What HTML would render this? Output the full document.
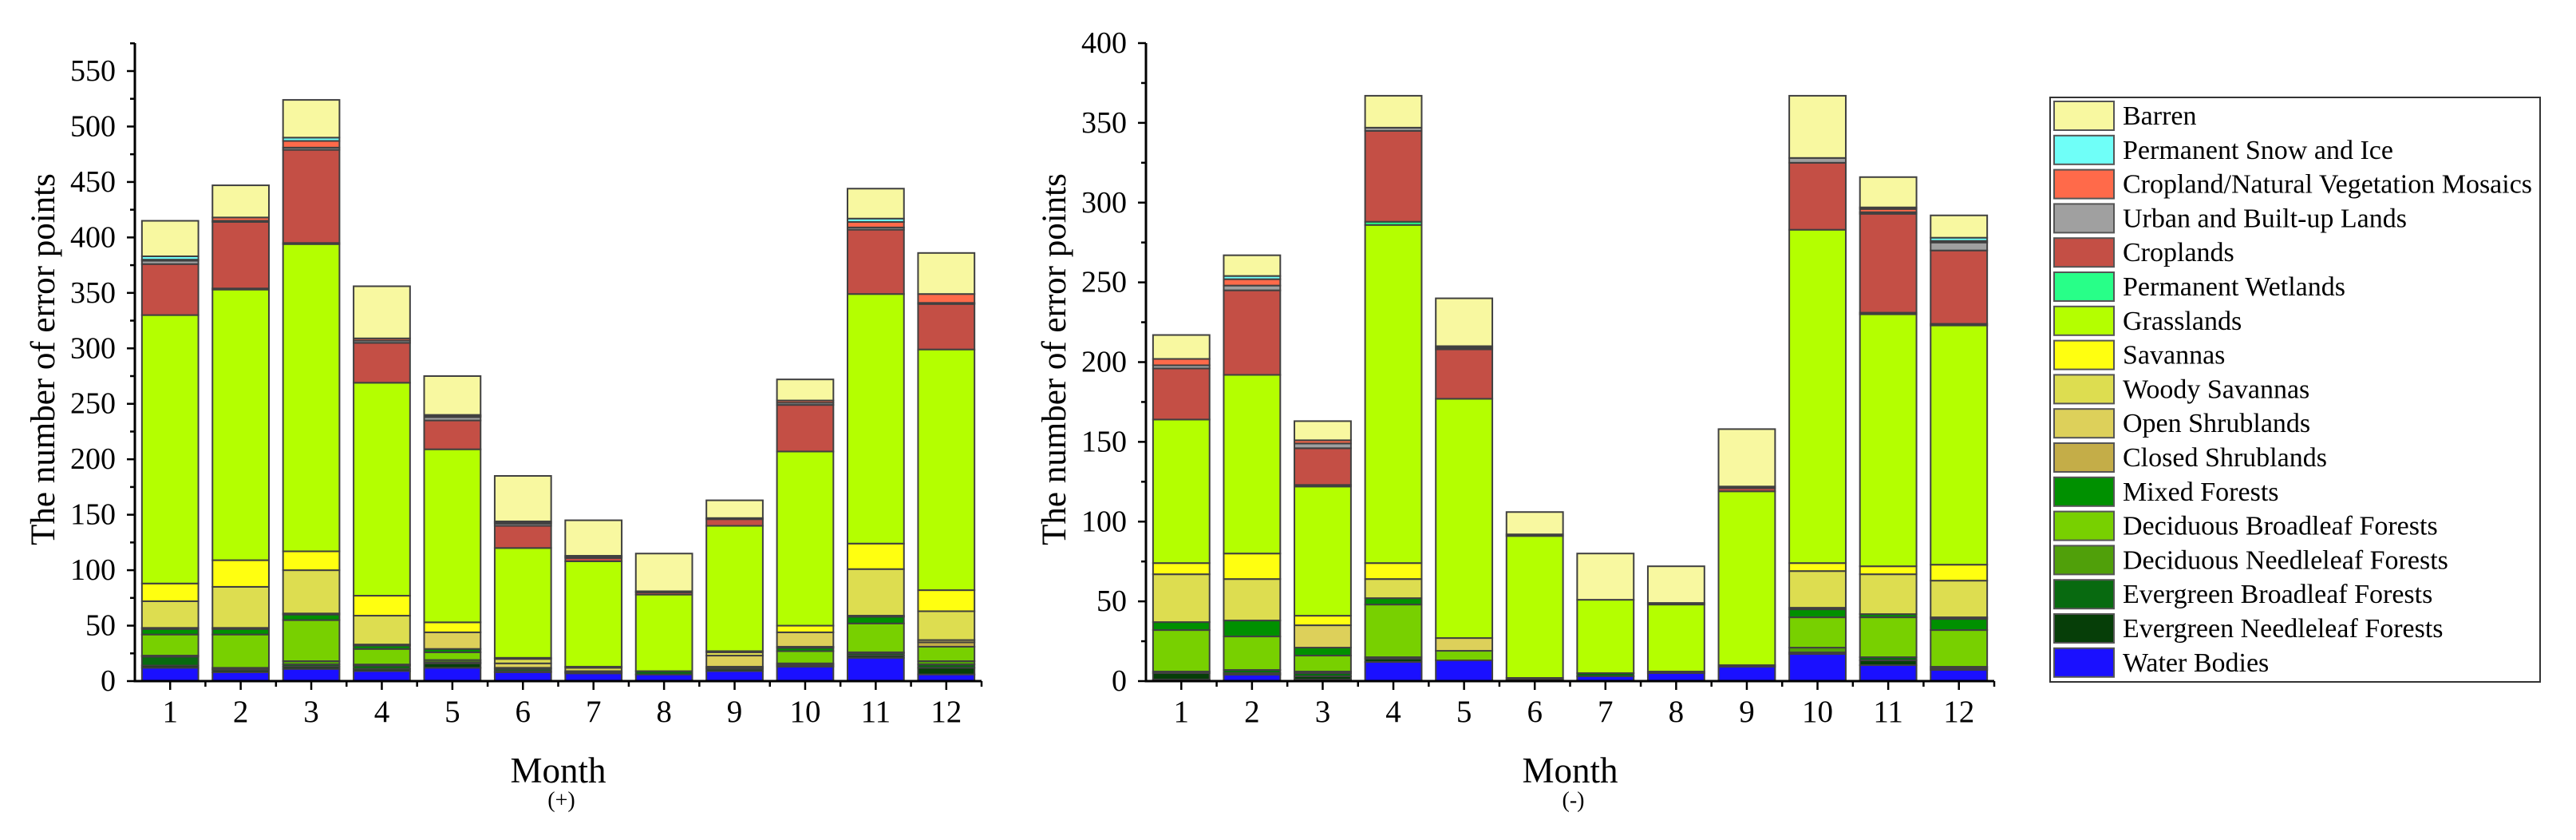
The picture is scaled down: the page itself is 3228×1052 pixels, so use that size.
<!DOCTYPE html>
<html><head><meta charset="utf-8"><style>
html,body{margin:0;padding:0;background:#fff}
svg{display:block}
svg text{font-family:'Liberation Serif','Times New Roman',Times,serif;fill:#000}
</style></head><body>
<svg id="chart" width="3228" height="1052" viewBox="0 0 3228 1052" xmlns="http://www.w3.org/2000/svg" font-family="'Liberation Serif', 'Times New Roman', serif"></svg>
<script>
const months = ["1","2","3","4","5","6","7","8","9","10","11","12"];
const classNames = ["Water Bodies","Evergreen Needleleaf Forests","Evergreen Broadleaf Forests","Deciduous Needleleaf Forests","Deciduous Broadleaf Forests","Mixed Forests","Closed Shrublands","Open Shrublands","Woody Savannas","Savannas","Grasslands","Permanent Wetlands","Croplands","Urban and Built-up Lands","Cropland/Natural Vegetation Mosaics","Permanent Snow and Ice","Barren"];
const classColors = ["#1a10ff","#063e08","#086a10","#50a00a","#78d000","#009000","#c4ad48","#ddd05a","#dddd50","#ffff10","#b4ff00","#28ff88","#c44f45","#a0a0a0","#ff6a4a","#6ffff8","#f8f8a0"];
// positive errors: rows = month, cols = class order above
const plusValues = [
 [12,2,8,1,19,5,1,0,24,16,242,0,46,3,1,3,32],
 [8,2,1,1,30,5,1,0,37,24,244,1,60,1,3,0,29],
 [11,2,2,3,37,5,1,0,39,17,277,1,84,2,6,3,34],
 [9,2,3,1,14,3,1,0,26,18,192,0,36,2,2,0,47],
 [12,4,1,2,7,3,0,15,0,9,156,0,26,3,1,1,35],
 [8,1,2,0,1,0,0,4,4,1,99,0,20,2,1,1,41],
 [7,1,1,0,0,0,0,0,3,1,95,0,3,1,1,0,32],
 [6,0,3,0,0,0,0,0,0,0,69,0,2,1,0,0,34],
 [9,2,1,1,0,0,0,10,3,1,113,0,6,1,0,0,16],
 [13,1,1,1,11,3,1,13,0,6,157,0,42,2,2,0,19],
 [21,2,2,1,26,6,1,0,42,23,225,0,58,2,5,3,27],
 [6,6,3,3,13,0,4,2,26,19,217,0,41,1,8,0,37]
];
const minusValues = [
 [1,4,1,0,26,5,0,0,30,7,90,0,32,2,4,0,15],
 [4,1,2,0,21,10,0,0,26,16,112,0,53,3,4,2,13],
 [1,2,2,1,10,5,0,14,0,6,81,1,23,3,2,0,12],
 [12,2,1,0,33,4,0,0,12,10,212,2,57,2,0,0,20],
 [13,0,0,0,6,0,0,8,0,0,150,0,31,1,0,1,30],
 [1,0,0,1,0,0,0,0,0,0,89,0,1,0,0,0,14],
 [3,0,2,0,0,0,0,0,0,0,46,0,0,0,0,0,29],
 [5,0,1,0,0,0,0,0,0,0,42,0,1,0,0,0,23],
 [9,0,0,0,0,0,0,1,0,0,109,0,2,1,0,0,36],
 [17,0,1,3,19,5,1,0,23,5,209,0,42,3,0,0,39],
 [10,3,2,0,25,2,0,0,25,5,158,1,62,1,2,1,19],
 [7,1,1,0,23,7,1,0,23,10,150,1,46,5,1,2,14]
];
const plusTicks = [0,50,100,150,200,250,300,350,400,450,500,550];
const minusTicks = [0,50,100,150,200,250,300,350,400];

const svg = document.getElementById('chart');
const NS = "http://www.w3.org/2000/svg";
const FF = "'Liberation Serif', 'Times New Roman', serif";
function mk(tag, attrs, parent){
  const e = document.createElementNS(NS, tag);
  for (const k in attrs) e.setAttribute(k, attrs[k]);
  if (tag === 'text') e.setAttribute('font-family', FF);
  (parent||svg).appendChild(e);
  return e;
}

function drawChart(cfg){
  const g = mk('g', {});
  
  
  const band = (cfg.x1 - cfg.x0) / months.length;
  const xScale = i => cfg.x0 + band * (i + 0.5);
  const yScale = v => cfg.yBase - (v / cfg.yMax) * (cfg.yBase - cfg.yTop);
  const barW = band * 0.8;
  cfg.values.forEach((row, i) => {
    let cum = 0;
    row.forEach((v, c) => {
      if (v <= 0) return;
      const y1 = yScale(cum), y2 = yScale(cum + v);
      cum += v;
      const r = mk('rect', {x: xScale(i) - barW/2, y: y2, width: barW, height: y1 - y2, fill: classColors[c], stroke: '#404040', 'stroke-width': 2}, g);
      
      
    });
  });
  const ax = mk('g', {stroke: '#000', 'stroke-width': 3}, g);
  
  
  mk('line', {x1: cfg.x0, y1: cfg.axisTop, x2: cfg.x0, y2: cfg.yBase + 1.5}, ax);
  mk('line', {x1: cfg.x0 - 1.5, y1: cfg.yBase, x2: cfg.x1, y2: cfg.yBase}, ax);
  for (let t = 0; t <= cfg.yMax + 0.1; t += cfg.minor) {
    const isMaj = cfg.ticks.indexOf(t) >= 0;
    const y = yScale(t);
    mk('line', {x1: cfg.x0 - (isMaj ? 10 : 6), y1: y, x2: cfg.x0, y2: y, 'stroke-width': 2.5}, ax);
  }
  {
    const y = yScale(cfg.yMax + cfg.minor);
    if (y > cfg.axisTop) mk('line', {x1: cfg.x0 - 6, y1: y, x2: cfg.x0, y2: y, 'stroke-width': 2.5}, ax);
  }
  cfg.ticks.forEach(t => {
    const tx = mk('text', {x: cfg.x0 - 24, y: yScale(t) + 12, 'text-anchor': 'end', 'font-size': 38}, g);
    tx.textContent = t;
    
    
  });
  months.forEach((m, i) => {
    mk('line', {x1: xScale(i), y1: cfg.yBase, x2: xScale(i), y2: cfg.yBase + 11, 'stroke-width': 2.5}, ax);
    mk('line', {x1: cfg.x0 + band*(i+1), y1: cfg.yBase, x2: cfg.x0 + band*(i+1), y2: cfg.yBase + 7, 'stroke-width': 2.5}, ax);
    const tx = mk('text', {x: xScale(i), y: cfg.yBase + 51, 'text-anchor': 'middle', 'font-size': 39}, g);
    tx.textContent = m;
    
    
  });
  const cx = (cfg.x0 + cfg.x1) / 2;
  const xt = mk('text', {x: cx, y: 980, 'text-anchor': 'middle', 'font-size': 45}, g);
  xt.textContent = 'Month';
  
  
  const sub = mk('text', {x: cx + 4, y: 1011, 'text-anchor': 'middle', 'font-size': 28}, g);
  sub.textContent = cfg.sub;
  
  
  const yt = mk('text', {x: 0, y: 0, 'text-anchor': 'middle', 'font-size': 43, transform: 'translate(' + cfg.titleX + ',450) rotate(-90)'}, g);
  yt.textContent = 'The number of error points';
  
  
}

drawChart({name:'positive-error-chart', values: plusValues, ticks: plusTicks, yMax: 550, minor: 25, x0: 169, x1: 1230, yBase: 853, yTop: 89, axisTop: 54, sub: '(+)', titleX: 68});
drawChart({name:'negative-error-chart', values: minusValues, ticks: minusTicks, yMax: 400, minor: 25, x0: 1436, x1: 2499, yBase: 853, yTop: 54, axisTop: 54, sub: '(-)', titleX: 1335});

const lg = mk('g', {});


mk('rect', {x: 2569, y: 122, width: 614, height: 732, fill: '#fff', stroke: '#333', 'stroke-width': 2}, lg);
for (let k = 0; k < classNames.length; k++) {
  const c = classNames.length - 1 - k;
  const y = 127 + k * 42.8;
  const sw = mk('rect', {x: 2574, y: y, width: 75, height: 36, fill: classColors[c], stroke: '#555', 'stroke-width': 2}, lg);
  
  
  const t = mk('text', {x: 2660, y: y + 29, 'font-size': 34}, lg);
  t.textContent = classNames[c];
  
  
}
</script>
</body></html>
